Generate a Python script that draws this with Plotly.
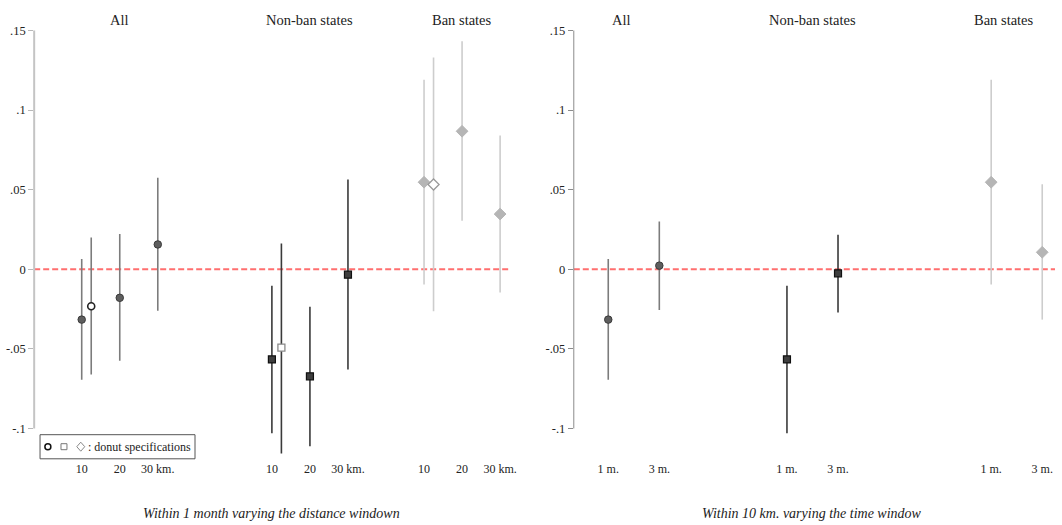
import plotly.graph_objects as go

W, H = 1062, 525

# ---------------- data ----------------
groups = ["All", "Non-ban states", "Ban states"]
dist_labels = ["10", "20", "30 km."]
time_labels = ["1 m.", "3 m."]
ytick_vals = [-0.1, -0.05, 0, 0.05, 0.1, 0.15]
ytick_text = ["-.1", "-.05", "0", ".05", ".1", ".15"]

# Within 1 month, varying distance window (10, 20, 30 km)
all_dist_est = [-0.0316, -0.0179, 0.0156]
all_dist_lo = [-0.0693, -0.0574, -0.0261]
all_dist_hi = [0.0065, 0.0221, 0.0575]
nonban_dist_est = [-0.0566, -0.0672, -0.0034]
nonban_dist_lo = [-0.1030, -0.1112, -0.0629]
nonban_dist_hi = [-0.0103, -0.0236, 0.0564]
ban_dist_est = [0.0547, 0.0867, 0.0347]
ban_dist_lo = [-0.0095, 0.0305, -0.0145]
ban_dist_hi = [0.1190, 0.1432, 0.0840]
# donut specifications (10 km) for All, Non-ban, Ban
donut_est = [-0.0232, -0.0492, 0.0533]
donut_lo = [-0.0661, -0.1157, -0.0263]
donut_hi = [0.0200, 0.0162, 0.1331]

# Within 10 km, varying time window (1 m, 3 m)
all_time_est = [-0.0316, 0.0023]
all_time_lo = [-0.0693, -0.0255]
all_time_hi = [0.0065, 0.0301]
nonban_time_est = [-0.0566, -0.0025]
nonban_time_lo = [-0.1030, -0.0272]
nonban_time_hi = [-0.0103, 0.0217]
ban_time_est = [0.0547, 0.0107]
ban_time_lo = [-0.0095, -0.0316]
ban_time_hi = [0.1190, 0.0534]

# ---------------- layout positions ----------------
dist_pos = [[1, 2, 3], [6, 7, 8], [10, 11, 12]]
donut_offset = 0.25
time_pos = [[1, 2], [4.5, 5.5], [8.5, 9.5]]
dist_title_x = [2, 7, 11]
time_title_x = [1.25, 5, 8.75]

FONT = "Liberation Serif, Times New Roman, DejaVu Serif, serif"

styles = [
    dict(symbol="circle", size=7.5, fill="#5e5e5e", line="#3a3a3a", lw=1, bar="#7c7c7c"),
    dict(symbol="square", size=7, fill="#3e3e3e", line="#111111", lw=1.2, bar="#3a3a3a"),
    dict(symbol="diamond", size=9, fill="#b5b5b5", line="#b5b5b5", lw=1, bar="#cdcdcd"),
]
donut_styles = [
    dict(symbol="circle", color="#222222", lw=1.6, bar="#7c7c7c", size=7),
    dict(symbol="square", color="#8a8a8a", lw=1.3, bar="#3a3a3a", size=7),
    dict(symbol="diamond", color="#9a9a9a", lw=1.3, bar="#cdcdcd", size=8.5),
]


def err(est, lo, hi):
    return ([h - e for e, h in zip(est, hi)], [e - l for e, l in zip(est, lo)])


fig = go.Figure()


def add_series(x, est, lo, hi, st, xa, ya):
    up, dn = err(est, lo, hi)
    fig.add_trace(go.Scatter(
        x=x, y=est, mode="markers", xaxis=xa, yaxis=ya, showlegend=False,
        error_y=dict(type="data", array=up, arrayminus=dn, color=st["bar"],
                     thickness=1.6, width=0),
        marker=dict(symbol=st["symbol"], size=st["size"], color=st["fill"],
                    line=dict(color=st["line"], width=st["lw"])),
        cliponaxis=False,
    ))


def add_donut(x, est, lo, hi, st, xa, ya):
    up, dn = err([est], [lo], [hi])
    fig.add_trace(go.Scatter(
        x=[x], y=[est], mode="markers", xaxis=xa, yaxis=ya, showlegend=False,
        error_y=dict(type="data", array=up, arrayminus=dn, color=st["bar"],
                     thickness=1.6, width=0),
        marker=dict(symbol=st["symbol"], size=st["size"], color="white",
                    line=dict(color=st["color"], width=st["lw"])),
        cliponaxis=False,
    ))


dist_series = [
    (all_dist_est, all_dist_lo, all_dist_hi),
    (nonban_dist_est, nonban_dist_lo, nonban_dist_hi),
    (ban_dist_est, ban_dist_lo, ban_dist_hi),
]
time_series = [
    (all_time_est, all_time_lo, all_time_hi),
    (nonban_time_est, nonban_time_lo, nonban_time_hi),
    (ban_time_est, ban_time_lo, ban_time_hi),
]

for g in range(3):
    e, l, h = dist_series[g]
    add_series(dist_pos[g], e, l, h, styles[g], "x", "y")
    add_donut(dist_pos[g][0] + donut_offset, donut_est[g], donut_lo[g], donut_hi[g],
              donut_styles[g], "x", "y")
    e, l, h = time_series[g]
    add_series(time_pos[g], e, l, h, styles[g], "x2", "y2")


def px(x):
    return x / W


def py(y):
    return 1 - y / H


# plot geometry (pixels)
y_top_px, y_bot_px = 20, 460
pix_per_unit = (428.5 - 30.5) / 0.25
ymax = 0.15 + (30.5 - y_top_px) / pix_per_unit
ymin = -0.1 - (y_bot_px - 428.5) / pix_per_unit
ydom = [py(y_bot_px), py(y_top_px)]

xaxis_common = dict(showgrid=False, zeroline=False, showline=False, ticks="",
                    tickfont=dict(family=FONT, size=12, color="#222"))
yaxis_common = dict(showgrid=False, zeroline=False, showline=False, ticks="outside",
                    ticklen=5, tickwidth=1, tickvals=ytick_vals, ticktext=ytick_text,
                    tickfont=dict(family=FONT, size=12.5, color="#222"),
                    range=[ymin, ymax], domain=ydom)

fig.update_layout(
    width=W, height=H, autosize=False,
    margin=dict(l=0, r=0, t=0, b=0),
    paper_bgcolor="white", plot_bgcolor="white",
    hovermode=False,
    xaxis=dict(xaxis_common, domain=[px(34.4), px(513)], range=[-0.25, 12.25],
               tickvals=sum(dist_pos, []), ticktext=dist_labels * 3),
    xaxis2=dict(xaxis_common, domain=[px(577.6), 1.0], range=[0.325, 9.75],
                tickvals=sum(time_pos, []), ticktext=time_labels * 3),
    yaxis=dict(yaxis_common, anchor="x", tickcolor="#b8b8b8"),
    yaxis2=dict(yaxis_common, anchor="x2", tickcolor="#8c8c8c"),
)

shapes = []
# y-axis lines spanning the scale
shapes.append(dict(type="line", xref="x domain", yref="y", x0=0, x1=0, y0=-0.1, y1=0.15,
                   line=dict(color="#c4c4c4", width=2)))
shapes.append(dict(type="line", xref="x2 domain", yref="y2", x0=0, x1=0, y0=-0.1, y1=0.15,
                   line=dict(color="#8c8c8c", width=1)))
# zero reference lines
for xr, yr in (("x domain", "y"), ("x2 domain", "y2")):
    shapes.append(dict(type="line", xref=xr, yref=yr, x0=0, x1=1, y0=0, y1=0,
                       line=dict(color="#ff6f6f", width=2, dash="6px,3px"), layer="below"))

# legend box for donut specifications
shapes.append(dict(type="rect", xref="paper", yref="paper", x0=px(40.3), x1=px(196.3),
                   y0=py(458.8), y1=py(434.7), line=dict(color="#555", width=1),
                   fillcolor="white"))
cy = 446.7
shapes.append(dict(type="circle", xref="paper", yref="paper", x0=px(45.2), x1=px(51.2),
                   y0=py(cy + 3), y1=py(cy - 3), line=dict(color="#111", width=1.5)))
shapes.append(dict(type="rect", xref="paper", yref="paper", x0=px(61.4), x1=px(67.4),
                   y0=py(cy + 3), y1=py(cy - 3), line=dict(color="#777", width=1)))
shapes.append(dict(type="path", xref="paper", yref="paper",
                   path=f"M {px(77.3)} {py(cy)} L {px(81.3)} {py(cy - 4.5)} L {px(85.3)} {py(cy)} "
                        f"L {px(81.3)} {py(cy + 4.5)} Z",
                   line=dict(color="#888", width=1)))
fig.update_layout(shapes=shapes)

ann = []
for g in range(3):
    ann.append(dict(text=groups[g], xref="x", yref="paper", x=dist_title_x[g], y=py(19.6),
                    showarrow=False, xanchor="center", yanchor="middle",
                    font=dict(family=FONT, size=14.5, color="#222")))
    ann.append(dict(text=groups[g], xref="x2", yref="paper", x=time_title_x[g], y=py(19.6),
                    showarrow=False, xanchor="center", yanchor="middle",
                    font=dict(family=FONT, size=14.5, color="#222")))
ann.append(dict(text=": donut specifications", xref="paper", yref="paper", x=px(86.5), y=py(cy),
                showarrow=False, xanchor="left", yanchor="middle",
                font=dict(family=FONT, size=12, color="#222")))
ann.append(dict(text="<i>Within 1 month varying the distance windown</i>", xref="paper",
                yref="paper", x=px(273.4), y=py(513), showarrow=False, xanchor="center",
                yanchor="middle", font=dict(family=FONT, size=14, color="#222")))
ann.append(dict(text="<i>Within 10 km. varying the time window</i>", xref="paper",
                yref="paper", x=px(817), y=py(513), showarrow=False, xanchor="center",
                yanchor="middle", font=dict(family=FONT, size=14, color="#222")))
fig.update_layout(annotations=ann)

fig.write_html("out.html",
               config={"displayModeBar": False, "staticPlot": True},
               post_script="document.body.style.margin='0px';document.body.style.padding='0px';")
